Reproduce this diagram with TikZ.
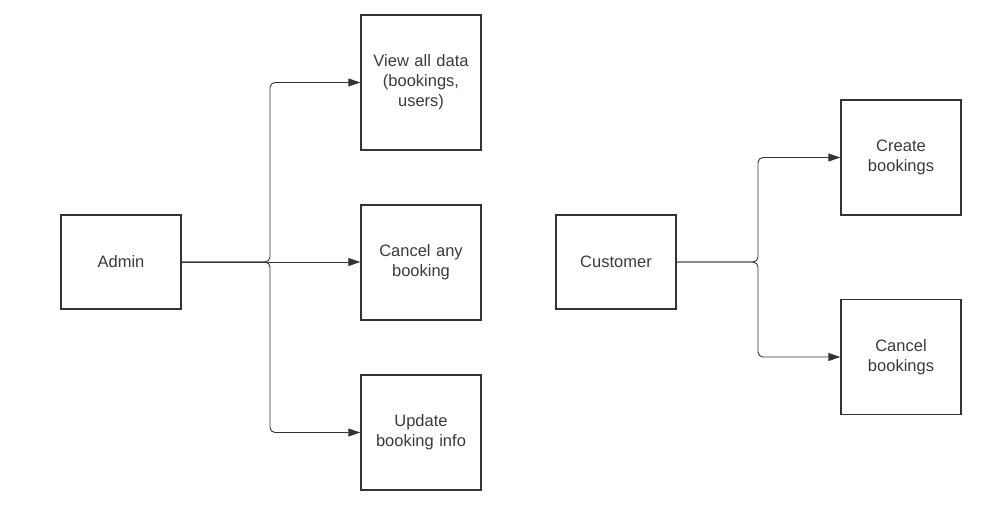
\documentclass[tikz,border=0pt]{standalone}
\usepackage{fontspec}
\setmainfont{Liberation Sans}
\usetikzlibrary{arrows.meta}
\definecolor{ink}{HTML}{333333}
\definecolor{txt}{HTML}{3A3A3A}
\begin{document}
\begin{tikzpicture}[x=1pt,y=-1pt,
  box/.style={draw=ink,line width=1.4pt,minimum width=120pt,inner sep=2pt,align=center,text=txt,font=\fontsize{16.5}{20}\selectfont,text width=110pt},
  conn/.style={draw=ink,line width=0.9pt,rounded corners=5pt,-{Triangle[length=12pt,width=8pt]}}]
\useasboundingbox (0,0) rectangle (999,512);
\node[box,minimum height=94pt] (admin) at (121,262) {Admin};
\node[box,minimum height=135pt] (view) at (421,82.5) {View all data\\(bookings,\\users)};
\node[box,minimum height=115pt] (cancelany) at (421,262.5) {Cancel any\\booking};
\node[box,minimum height=115pt] (update) at (421,432.5) {Update\\booking info};
\node[box,minimum height=94pt] (customer) at (616,262) {Customer};
\node[box,minimum height=115pt] (create) at (901,157.5) {Create\\bookings};
\node[box,minimum height=115pt] (cancel) at (901,357) {Cancel\\bookings};
\coordinate (ja) at (270,262);
\coordinate (jc) at (758,262);
\draw[conn] (admin.east) -- (ja) |- (view.west);
\draw[conn] (admin.east) -- (cancelany.west |- admin.east);
\draw[conn] (admin.east) -- (ja) |- (update.west);
\draw[conn] (customer.east) -- (jc) |- (create.west);
\draw[conn] (customer.east) -- (jc) |- (cancel.west);
\end{tikzpicture}
\end{document}
